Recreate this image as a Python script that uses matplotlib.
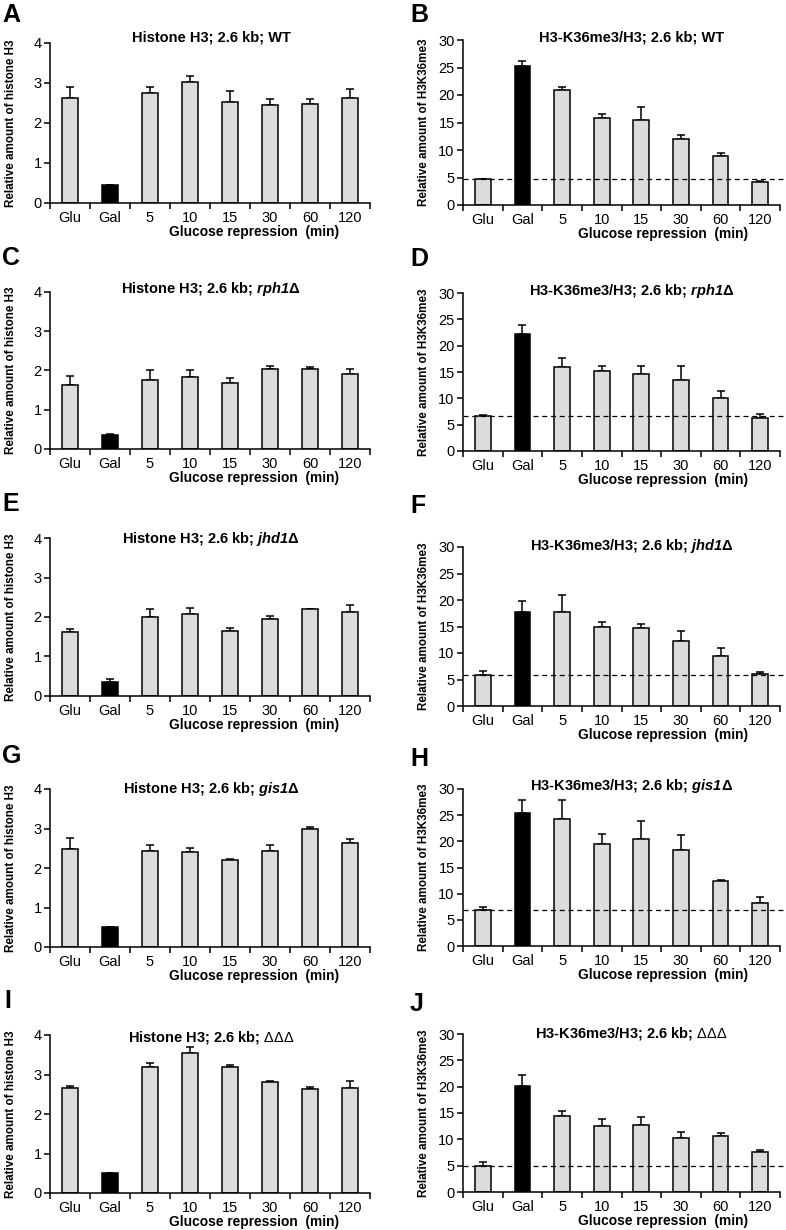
import matplotlib
matplotlib.use('Agg')
import matplotlib.pyplot as plt
import numpy as np

plt.rcParams['font.family'] = ['Liberation Sans', 'DejaVu Sans']
plt.rcParams['mathtext.fontset'] = 'custom'
plt.rcParams['mathtext.rm'] = 'Liberation Sans'
plt.rcParams['mathtext.it'] = 'Liberation Sans:italic'
plt.rcParams['mathtext.bf'] = 'Liberation Sans:bold'
plt.rcParams['mathtext.bfit'] = 'Liberation Sans:italic:bold'

# ---------------- data ----------------
categories = ['Glu', 'Gal', '5', '10', '15', '30', '60', '120']
xlabel_text = 'Glucose repression  (min)'
ylabel_h3 = 'Relative amount of histone H3'
ylabel_k36 = 'Relative amount of H3K36me3'

# Histone H3 occupancy (left column)
h3_wt = [2.63, 0.46, 2.76, 3.02, 2.53, 2.45, 2.47, 2.63]
h3_wt_err = [0.26, 0.0, 0.14, 0.15, 0.27, 0.15, 0.12, 0.23]
h3_rph1 = [1.62, 0.36, 1.75, 1.83, 1.67, 2.04, 2.04, 1.90]
h3_rph1_err = [0.25, 0.02, 0.25, 0.17, 0.14, 0.08, 0.04, 0.14]
h3_jhd1 = [1.62, 0.36, 2.00, 2.08, 1.64, 1.94, 2.21, 2.12]
h3_jhd1_err = [0.07, 0.06, 0.19, 0.15, 0.07, 0.08, 0.0, 0.18]
h3_gis1 = [2.47, 0.50, 2.42, 2.40, 2.19, 2.42, 3.00, 2.63]
h3_gis1_err = [0.29, 0.0, 0.17, 0.10, 0.04, 0.15, 0.04, 0.11]
h3_ddd = [2.66, 0.50, 3.19, 3.54, 3.19, 2.81, 2.64, 2.66]
h3_ddd_err = [0.06, 0.0, 0.10, 0.15, 0.05, 0.02, 0.04, 0.17]

# H3K36me3 / H3 (right column)
k36_wt = [4.75, 25.2, 21.0, 15.8, 15.5, 12.0, 8.9, 4.15]
k36_wt_err = [0.0, 0.9, 0.4, 0.8, 2.3, 0.8, 0.6, 0.25]
k36_rph1 = [6.6, 22.2, 16.0, 15.1, 14.7, 13.4, 10.1, 6.3]
k36_rph1_err = [0.3, 1.8, 1.6, 1.0, 1.5, 2.7, 1.3, 0.8]
k36_jhd1 = [5.8, 17.8, 17.7, 15.0, 14.7, 12.3, 9.5, 6.0]
k36_jhd1_err = [0.8, 2.1, 3.3, 0.9, 0.7, 1.8, 1.4, 0.4]
k36_gis1 = [6.8, 25.4, 24.3, 19.5, 20.5, 18.3, 12.4, 8.3]
k36_gis1_err = [0.7, 2.5, 3.6, 1.9, 3.3, 3.0, 0.2, 1.1]
k36_ddd = [5.0, 20.2, 14.4, 12.5, 12.8, 10.3, 10.6, 7.6]
k36_ddd_err = [0.7, 2.0, 1.0, 1.4, 1.4, 1.0, 0.6, 0.4]

letters = ['A', 'B', 'C', 'D', 'E', 'F', 'G', 'H', 'I', 'J']
titles = [
    r'Histone H3; 2.6 kb; WT',
    r'H3-K36me3/H3; 2.6 kb; WT',
    r'Histone H3; 2.6 kb; $\mathbfit{rph1}\mathbf{\Delta}$',
    r'H3-K36me3/H3; 2.6 kb; $\mathbfit{rph1}\mathbf{\Delta}$',
    r'Histone H3; 2.6 kb; $\mathbfit{jhd1}\mathbf{\Delta}$',
    r'H3-K36me3/H3; 2.6 kb; $\mathbfit{jhd1}\mathbf{\Delta}$',
    r'Histone H3; 2.6 kb; $\mathbfit{gis1}\mathbf{\Delta}$',
    r'H3-K36me3/H3; 2.6 kb; $\mathbfit{gis1}\mathbf{\Delta}$',
    r'Histone H3; 2.6 kb; $\Delta\Delta\Delta$',
    r'H3-K36me3/H3; 2.6 kb; $\Delta\Delta\Delta$',
]
values = [h3_wt, k36_wt, h3_rph1, k36_rph1, h3_jhd1, k36_jhd1, h3_gis1, k36_gis1, h3_ddd, k36_ddd]
errors = [h3_wt_err, k36_wt_err, h3_rph1_err, k36_rph1_err, h3_jhd1_err, k36_jhd1_err,
          h3_gis1_err, k36_gis1_err, h3_ddd_err, k36_ddd_err]

# ---------------- layout (pixels) ----------------
W, H = 786, 1230
# (left, top, right, bottom) of each axes in pixels
boxes = [
    (50, 43, 370, 203), (463, 40, 780, 205),
    (50, 292, 370, 449), (463, 293, 780, 451),
    (50, 538, 370, 696), (463, 547, 780, 706),
    (50, 789, 370, 947), (463, 789, 780, 946),
    (50, 1035, 370, 1193), (463, 1034, 780, 1192),
]
title_baseline = [42, 42, 293, 295, 543, 550, 793, 790, 1042, 1037]
letter_pos = [(2, 3), (410, 3), (2, 246), (410, 247), (2, 492), (410, 494),
              (2, 744), (410, 747), (4, 989), (410, 992)]

fig = plt.figure(figsize=(W / 100, H / 100), dpi=100)
fig.patch.set_facecolor('white')

bar_gray = '#dcdcdc'
x = np.arange(len(categories))

for i in range(10):
    l, t, r, b = boxes[i]
    ax = fig.add_axes([l / W, 1 - b / H, (r - l) / W, (b - t) / H])
    vals = np.array(values[i])
    errs = np.array(errors[i])
    right_col = (i % 2 == 1)
    colors = [bar_gray] * len(categories)
    colors[1] = 'black'
    ax.errorbar(x, vals, yerr=[np.zeros_like(errs), errs], fmt='none',
                ecolor='black', elinewidth=1.1, capsize=3, capthick=1.1, zorder=1)
    ax.bar(x, vals, width=0.4, color=colors, edgecolor='black', linewidth=1.1, zorder=2)
    ax.set_xlim(-0.5, 7.5)
    if right_col:
        ax.set_ylim(0, 30)
        ax.set_yticks(np.arange(0, 31, 5))
        ax.plot([0, 1.03], [vals[0], vals[0]], transform=ax.get_yaxis_transform(),
                color='black', lw=0.9, ls=(0, (4, 3)), clip_on=False, zorder=3)
    else:
        ax.set_ylim(0, 4)
        ax.set_yticks(np.arange(0, 5, 1))
    for s in ['top', 'right']:
        ax.spines[s].set_visible(False)
    for s in ['left', 'bottom']:
        ax.spines[s].set_linewidth(1.1)
        ax.spines[s].set_color('black')
    ax.set_xticks(x)
    ax.set_xticklabels(categories)
    ax.set_xticks(np.arange(-0.5, 8.0, 1.0), minor=True)
    ax.tick_params(axis='x', which='major', length=0, labelsize=10.5, pad=6)
    ax.tick_params(axis='x', which='minor', length=4, width=1.1, direction='out')
    ax.tick_params(axis='y', length=4, width=1.1, direction='out', labelsize=10.5, pad=2)

    axh = b - t
    axw = r - l
    ax.set_ylabel(ylabel_k36 if right_col else ylabel_h3, fontsize=8.4, fontweight='bold')
    ax.yaxis.set_label_coords(-33 / axw, 0.5)
    ax.set_xlabel(xlabel_text, fontsize=9.9, fontweight='bold')
    ax.xaxis.set_label_coords(0.5 + (42 if right_col else 44) / axw, -22 / axh)

    ty = (b - title_baseline[i]) / axh
    ax.text(0.5 + (10 if right_col else 1) / axw, ty, titles[i], transform=ax.transAxes,
            ha='center', va='baseline', fontsize=10.5, fontweight='bold')

    lx, ly = letter_pos[i]
    fig.text(lx / W, 1 - ly / H, letters[i], ha='left', va='top',
             fontsize=18, fontweight='bold')

fig.savefig('out.png', dpi=100, facecolor='white')
